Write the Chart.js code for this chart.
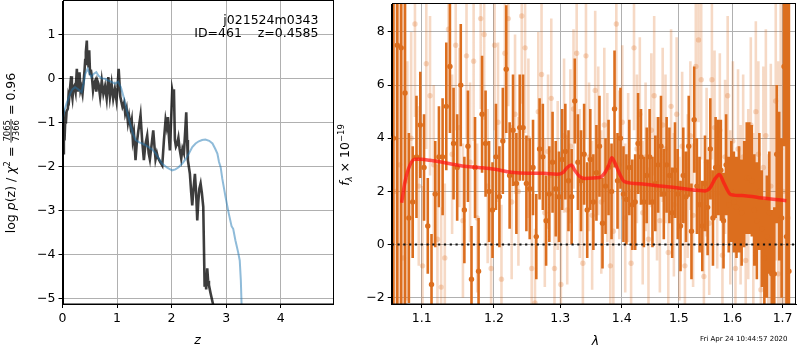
<!DOCTYPE html>
<html>
<head>
<meta charset="utf-8">
<script src="https://cdn.jsdelivr.net/npm/chart.js@4.4.0/dist/chart.umd.min.js"></script>
<style>
  html, body { margin: 0; padding: 0; background: #fff; }
  #wrap { position: relative; width: 800px; height: 350px; overflow: hidden; }
  #pzChart { position: absolute; left: 0; top: 0; }
  #specChart { position: absolute; left: 336px; top: 0; }
  #stamp { position: absolute; left: 700px; top: 335px; font: 7px "DejaVu Sans"; line-height: 9px; white-space: nowrap; color: #000; }
</style>
</head>
<body>
<div id="wrap">
  <canvas id="pzChart" width="336" height="350"></canvas>
  <canvas id="specChart" width="464" height="350"></canvas>
  <div id="stamp">Fri Apr 24 10:44:57 2020</div>
</div>
<script>
// ---- p(z) panel ----
const zPz = [0.000, 0.010, 0.025, 0.037, 0.050, 0.061, 0.075, 0.098, 0.110, 0.122,
  0.140, 0.159, 0.172, 0.183, 0.200, 0.220, 0.240, 0.263, 0.280, 0.296,
  0.312, 0.330, 0.345, 0.367, 0.385, 0.404, 0.416, 0.428, 0.446, 0.458,
  0.468, 0.478, 0.490, 0.505, 0.520, 0.540, 0.560, 0.580, 0.600, 0.620,
  0.640, 0.660, 0.690, 0.720, 0.750, 0.780, 0.810, 0.840, 0.870, 0.900,
  0.930, 0.960, 0.990, 1.010, 1.030, 1.060, 1.100, 1.130, 1.150, 1.175,
  1.200, 1.220, 1.248, 1.270, 1.290, 1.310, 1.339, 1.360, 1.390, 1.431,
  1.460, 1.492, 1.520, 1.553, 1.580, 1.602, 1.630, 1.664, 1.690, 1.706,
  1.730, 1.749, 1.790, 1.829, 1.860, 1.890, 1.910, 1.933, 1.950, 1.969,
  1.990, 2.012, 2.030, 2.043, 2.061, 2.080, 2.104, 2.125, 2.147, 2.177,
  2.200, 2.226, 2.250, 2.269, 2.285, 2.299, 2.336, 2.360, 2.379, 2.400,
  2.428, 2.450, 2.471, 2.490, 2.510, 2.532, 2.555, 2.581, 2.606, 2.620,
  2.635, 2.654, 2.670, 2.685, 2.716, 2.765, 2.800];
const logPz = [-1.75, -1.70, -1.20, -1.41, -0.95, -1.03, -0.75, -0.69, -0.40, -0.46,
  -0.20, 0.05, -0.35, -0.45, -0.20, -0.16, -0.30, 0.22, -0.30, -0.15,
  0.14, -0.27, -0.20, -0.35, -0.10, 0.18, 0.42, 0.60, 0.86, 0.30,
  0.48, 0.25, 0.64, 0.10, 0.20, 0.03, -0.27, -0.10, -0.05, -0.30,
  -0.05, -0.12, -0.42, -0.05, -0.35, -0.18, -0.46, 0.03, -0.42, -0.12,
  -0.46, -0.24, -0.50, -0.20, 0.22, -0.42, -0.65, -0.55, -0.80, -0.68,
  -1.00, -0.85, -1.10, -0.95, -1.40, -1.25, -1.86, -1.50, -1.20, -0.84,
  -1.40, -1.86, -1.50, -1.30, -1.70, -1.84, -1.55, -1.18, -1.60, -1.84,
  -1.70, -1.80, -1.90, -1.98, -1.40, -0.95, -1.10, -0.88, -1.30, -1.64,
  -1.00, -0.27, -0.40, -0.25, -1.40, -1.55, -1.48, -1.35, -1.60, -1.82,
  -1.60, -1.70, -1.20, -0.77, -1.40, -1.86, -2.17, -2.60, -2.89, -2.55,
  -2.17, -2.60, -3.23, -2.80, -2.50, -2.39, -2.60, -2.92, -4.74, -4.50,
  -4.80, -4.32, -4.60, -4.70, -4.89, -5.16, -5.40];
const zFit = [0.000, 0.010, 0.040, 0.080, 0.140, 0.180, 0.230, 0.280, 0.350, 0.390,
  0.416, 0.460, 0.500, 0.530, 0.570, 0.620, 0.660, 0.720, 0.780, 0.840,
  0.900, 0.960, 1.020, 1.070, 1.120, 1.180, 1.240, 1.290, 1.340, 1.400,
  1.460, 1.520, 1.580, 1.650, 1.710, 1.770, 1.830, 1.920, 2.010, 2.070,
  2.130, 2.200, 2.260, 2.320, 2.380, 2.440, 2.500, 2.560, 2.620, 2.690,
  2.750, 2.800, 2.840, 2.870, 2.900, 2.930, 2.990, 3.050, 3.100, 3.130,
  3.170, 3.220, 3.250, 3.270, 3.285];
const logPFit = [-1.00, -0.88, -0.70, -0.55, -0.35, -0.25, -0.20, -0.24, -0.31, -0.10,
  0.10, 0.22, 0.10, 0.03, 0.10, 0.14, 0.06, 0.00, -0.01, -0.05,
  -0.08, -0.12, -0.08, -0.20, -0.42, -0.73, -1.03, -1.25, -1.40, -1.45,
  -1.48, -1.52, -1.56, -1.62, -1.71, -1.83, -1.94, -2.03, -2.09, -2.07,
  -2.02, -1.93, -1.83, -1.70, -1.56, -1.48, -1.43, -1.40, -1.39, -1.42,
  -1.48, -1.60, -1.71, -1.90, -2.02, -2.28, -2.70, -3.08, -3.36, -3.42,
  -3.68, -3.95, -4.14, -4.59, -5.20];
const pzXTicks = [0, 1, 2, 3, 4];
const pzYTicks = [-5, -4, -3, -2, -1, 0, 1];

// ---- spectrum panel ----
const lamDark = [1.063, 1.068, 1.073, 1.078, 1.083, 1.088, 1.093, 1.098, 1.103, 1.108,
  1.113, 1.118, 1.123, 1.128, 1.133, 1.138, 1.143, 1.148, 1.153, 1.158,
  1.163, 1.168, 1.173, 1.178, 1.183, 1.188, 1.193, 1.198, 1.203, 1.208,
  1.213, 1.218, 1.223, 1.228, 1.233, 1.238, 1.243, 1.248, 1.253, 1.258,
  1.263, 1.268, 1.273, 1.278, 1.283, 1.288, 1.293, 1.298, 1.303, 1.308,
  1.313, 1.318, 1.323, 1.328, 1.333, 1.338, 1.343, 1.348, 1.353, 1.358,
  1.363, 1.368, 1.373, 1.378, 1.383, 1.388, 1.393, 1.398, 1.403, 1.408,
  1.413, 1.418, 1.423, 1.428, 1.433, 1.438, 1.443, 1.448, 1.453, 1.458,
  1.463, 1.468, 1.473, 1.478, 1.483, 1.488, 1.493, 1.498, 1.503, 1.508,
  1.513, 1.518, 1.523, 1.528, 1.533, 1.538, 1.543, 1.548, 1.553, 1.558,
  1.563, 1.568, 1.573, 1.578, 1.583, 1.588, 1.593, 1.598, 1.603, 1.608,
  1.613, 1.618, 1.623, 1.628, 1.633, 1.638, 1.643, 1.648, 1.653, 1.658,
  1.663, 1.668, 1.673, 1.678, 1.683, 1.688, 1.693, 1.698, 1.703, 1.708,
  1.713];
const fluxDark = [4.0, 7.5, 7.4, 5.7, 1.0, 1.6, 3.3, 4.5, 2.9, 0.7,
  -1.5, 1.9, 3.3, 3.3, 5.2, 6.7, 3.8, 2.9, 6.0, 1.3,
  3.7, -1.3, 2.9, -1.0, 4.9, 3.8, 2.0, 1.3, 3.3, 1.8,
  3.9, 6.6, 2.6, 4.3, 2.3, 4.4, 4.4, 2.3, 2.1, 2.9,
  0.3, 3.6, 3.3, 0.9, 1.9, 3.1, 2.1, 1.8, 3.2, 3.5,
  2.4, 1.8, 5.4, 3.1, 2.4, 3.4, 1.3, 3.2, 1.6, 2.7,
  3.7, 0.8, 2.2, 2.9, 2.0, 5.1, 2.4, 4.0, 1.9, 1.7,
  2.9, 1.5, 1.6, 3.8, 3.3, 1.6, 2.6, 3.3, 1.6, 2.3,
  3.0, 3.7, 1.9, 3.0, 2.6, 1.2, 2.8, 1.9, 0.7, 2.6,
  1.8, 3.7, 0.5, 4.7, 2.2, 1.5, 0.7, 2.3, 1.4, 3.6,
  1.0, 2.9, 2.9, 2.8, 0.9, 3.0, 1.5, 2.0, 1.6, 1.4,
  1.7, 1.2, 1.9, 2.5, 2.5, 2.4, 1.3, 0.9, 2.0, 0.6,
  -0.5, 0.3, 1.2, -1.1, -1.1, 3.4, 2.2, 1.0, 6.7, 0.3,
  -1.0];
const errDark = [12, 12, 11, 10, 3.2, 2.1, 2.3, 2.0, 2.0, 1.8,
  1.9, 2.0, 1.9, 2.2, 2.4, 2.5, 2.1, 2.0, 2.3, 2.0,
  2.1, 2.0, 1.9, 2.0, 2.2, 2.0, 1.9, 1.8, 2.0, 1.9,
  2.0, 2.4, 2.0, 2.1, 1.9, 2.0, 2.0, 1.8, 1.9, 1.8,
  1.6, 1.9, 2.0, 1.7, 1.8, 1.9, 1.8, 1.7, 1.9, 1.8,
  1.9, 1.8, 1.6, 1.8, 1.9, 1.9, 1.8, 1.9, 1.8, 1.8,
  1.9, 1.7, 1.8, 1.8, 1.8, 2.2, 1.8, 1.9, 1.8, 1.7,
  1.8, 1.7, 1.8, 1.9, 1.8, 1.7, 1.8, 1.8, 1.7, 1.8,
  1.8, 1.9, 1.7, 1.8, 1.8, 1.7, 1.8, 1.7, 1.7, 1.8,
  1.7, 1.9, 1.8, 2.0, 1.8, 1.8, 1.7, 1.8, 1.8, 1.9,
  1.8, 1.9, 1.8, 1.9, 1.8, 1.9, 1.8, 1.9, 1.9, 1.9,
  2.0, 2.0, 2.0, 2.1, 2.1, 2.1, 2.1, 2.2, 2.2, 2.2,
  2.2, 2.3, 2.3, 2.4, 2.5, 2.6, 2.8, 3.0, 3.0, 10,
  12];
const lamLight = [1.066, 1.071, 1.076, 1.081, 1.086, 1.091, 1.096, 1.101, 1.106, 1.111,
  1.116, 1.121, 1.126, 1.131, 1.136, 1.141, 1.146, 1.151, 1.156, 1.161,
  1.166, 1.171, 1.176, 1.181, 1.186, 1.191, 1.196, 1.201, 1.206, 1.211,
  1.216, 1.221, 1.226, 1.231, 1.236, 1.241, 1.246, 1.251, 1.256, 1.261,
  1.266, 1.271, 1.276, 1.281, 1.286, 1.291, 1.296, 1.301, 1.306, 1.311,
  1.316, 1.321, 1.326, 1.331, 1.336, 1.341, 1.346, 1.351, 1.356, 1.361,
  1.366, 1.371, 1.376, 1.381, 1.386, 1.391, 1.396, 1.401, 1.406, 1.411,
  1.416, 1.421, 1.426, 1.431, 1.436, 1.441, 1.446, 1.451, 1.456, 1.461,
  1.466, 1.471, 1.476, 1.481, 1.486, 1.491, 1.496, 1.501, 1.506, 1.511,
  1.516, 1.521, 1.526, 1.531, 1.536, 1.541, 1.546, 1.551, 1.556, 1.561,
  1.566, 1.571, 1.576, 1.581, 1.586, 1.591, 1.596, 1.601, 1.606, 1.611,
  1.616, 1.621, 1.626, 1.631, 1.636, 1.641, 1.646, 1.651, 1.656, 1.661,
  1.666, 1.671, 1.676, 1.681, 1.686, 1.691, 1.696, 1.701, 1.706, 1.711];
const fluxLight = [2.0, 3.0, -0.5, 2.4, 4.0, 8.3, 2.2, -0.8, 6.8, 5.6,
  3.0, 0.2, -1.6, -0.5, 8.1, 3.4, 7.5, 4.4, 0.9, 7.1,
  3.1, 6.9, 1.0, 8.5, 7.9, 2.2, -0.9, 7.5, 4.6, -1.3,
  7.2, 8.5, 1.6, 4.9, 2.0, 8.6, 7.4, 4.0, -0.9, -2.2,
  5.0, 6.4, 1.2, 3.5, 5.5, -0.9, 2.6, -1.5, 4.1, 1.3,
  3.7, 5.1, 7.2, 2.3, -0.7, 7.1, 3.3, 1.1, 5.8, 3.9,
  1.6, 4.5, 2.9, -0.8, 0.5, 8.3, 3.0, 4.6, 1.0, 2.9,
  -0.7, 7.4, 3.6, 4.9, 1.2, 3.3, 0.2, 4.3, 5.6, 2.1,
  0.9, 4.5, 3.6, -0.3, 5.2, 1.5, 4.9, 0.6, 3.7, -0.8,
  2.2, 4.1, 1.1, 6.7, 7.7, 6.2, -1.2, 3.1, 0.8, 6.2,
  4.4, 1.9, 4.3, -0.4, 3.3, 5.6, 1.4, 3.9, -0.9, 3.6,
  1.5, 3.3, -0.6, 1.9, 4.5, 0.9, 5.0, 3.4, -1.7, 2.9,
  4.1, -0.8, 2.2, 1.0, 5.4, -1.1, 3.6, 2.0, 5.0, 1.0];
const errLight = [12, 12, 10, 4.5, 4.0, 3.5, 3.0, 3.0, 3.2, 3.0,
  3.0, 2.8, 3.0, 2.8, 3.0, 3.0, 3.2, 3.0, 2.9, 3.1,
  3.0, 3.0, 2.8, 3.4, 3.2, 2.9, 2.8, 3.2, 3.0, 2.8,
  3.2, 3.3, 2.9, 3.0, 2.8, 3.3, 3.2, 3.0, 2.8, 2.8,
  3.0, 3.1, 2.8, 2.9, 3.0, 2.8, 2.8, 2.9, 2.9, 2.8,
  2.9, 3.0, 3.2, 2.8, 2.7, 3.1, 2.8, 2.8, 3.0, 2.8,
  2.7, 2.9, 2.8, 2.8, 2.8, 3.2, 2.8, 2.9, 2.8, 2.8,
  2.8, 3.1, 2.8, 2.9, 2.7, 2.8, 2.7, 2.9, 3.0, 2.7,
  2.7, 2.9, 2.8, 2.7, 2.9, 2.7, 2.9, 2.7, 2.8, 2.7,
  2.7, 2.8, 2.7, 3.0, 3.1, 3.0, 2.8, 2.8, 2.7, 3.0,
  2.9, 2.8, 2.9, 2.8, 2.9, 3.0, 2.9, 3.0, 2.9, 3.0,
  3.0, 3.1, 3.1, 3.2, 3.3, 3.3, 3.4, 3.5, 3.6, 3.8,
  4.0, 4.2, 4.6, 5.0, 6.0, 8.0, 10, 12, 12, 12];
const lamModel = [1.0736, 1.078, 1.0844, 1.0909, 1.0996, 1.1106, 1.1328, 1.1551, 1.1782, 1.2016,
  1.2254, 1.2497, 1.2744, 1.2945, 1.3048, 1.311, 1.3177, 1.3229, 1.3308, 1.3388,
  1.3631, 1.3713, 1.3785, 1.3835, 1.3878, 1.3962, 1.4046, 1.4363, 1.4656, 1.4957,
  1.5265, 1.5482, 1.5578, 1.5674, 1.5752, 1.5838, 1.597, 1.6239, 1.6581, 1.7078];
const fluxModel = [1.57, 2.37, 2.99, 3.21, 3.21, 3.17, 3.07, 2.96, 2.9, 2.83,
  2.72, 2.68, 2.68, 2.65, 2.72, 2.9, 2.99, 2.8, 2.56, 2.49,
  2.52, 2.68, 2.99, 3.27, 3.11, 2.68, 2.37, 2.28, 2.2, 2.14,
  2.05, 2.02, 2.14, 2.49, 2.64, 2.31, 1.88, 1.84, 1.75, 1.65];
const specXTicks = [1.1, 1.2, 1.3, 1.4, 1.5, 1.6, 1.7];
const specYTicks = [-2, 0, 2, 4, 6, 8];
const specXMin = 1.0608, specXMax = 1.7277;

const darkOrange = "rgb(220,110,30)";
const lightOrange = "rgba(220,110,30,0.26)";
const tickFont = { family: "DejaVu Sans", size: 12.5 };
Chart.defaults.font.family = "DejaVu Sans";

function pairs(xs, ys) {
  return xs.map((x, i) => ({ x: x, y: ys[i] }));
}

// error bars as separate vertical segments, broken by nulls
function errorSegments(lam, flux, err) {
  const out = [];
  lam.forEach((l, i) => {
    out.push({ x: l, y: flux[i] - err[i] }, { x: l, y: flux[i] + err[i] }, { x: l, y: null });
  });
  return out;
}

function minusFmt(v) {
  return String(v).replace("-", "\u2212");
}

// fixed axis box size, no extra label overflow padding
function fixSize(prop, size) {
  return (s) => {
    s[prop] = size;
    s.paddingTop = 0;
    s.paddingBottom = 0;
    s.paddingLeft = 0;
    s.paddingRight = 0;
  };
}

function axis(ticks, extra) {
  return Object.assign({
    afterBuildTicks: (s) => { s.ticks = ticks.map((v) => ({ value: v })); },
    ticks: { font: tickFont, color: "#000", maxRotation: 0, autoSkip: false, callback: minusFmt },
    grid: { color: "#b0b0b0", lineWidth: 1, tickColor: "#000", tickLength: 4, drawTicks: true },
    border: { display: true, color: "#000", width: 1 },
  }, extra);
}

function fontOf(p) {
  return (p.it ? "italic " : "") + (p.size || 12.5) + "px 'DejaVu Sans'";
}

// rotated axis title made of text pieces (sub/superscripts, a fraction)
function drawRotatedMath(ctx, baseX, centerY, pieces) {
  ctx.save();
  ctx.translate(baseX, centerY);
  ctx.rotate(-Math.PI / 2);
  ctx.fillStyle = "#000";
  ctx.textBaseline = "alphabetic";
  let total = 0;
  pieces.forEach((p) => {
    ctx.font = fontOf(p);
    p.w = p.frac
      ? Math.max(ctx.measureText(p.frac[0]).width, ctx.measureText(p.frac[1]).width) + 2
      : ctx.measureText(p.t).width;
    total += p.w;
  });
  let u = -total / 2;
  pieces.forEach((p) => {
    ctx.font = fontOf(p);
    if (p.frac) {
      ctx.textAlign = "center";
      ctx.fillText(p.frac[0], u + p.w / 2, -5.5);
      ctx.fillText(p.frac[1], u + p.w / 2, 3.8);
      ctx.fillRect(u, -4.4, p.w, 0.8);
    } else {
      ctx.textAlign = "left";
      ctx.fillText(p.t, u, p.dy || 0);
    }
    u += p.w;
  });
  ctx.restore();
}

const frame = {
  id: "frame",
  afterDraw(chart) {
    const { ctx, chartArea: a } = chart;
    ctx.save();
    ctx.strokeStyle = "#000";
    ctx.lineWidth = 1;
    ctx.strokeRect(Math.round(a.left) + 0.5, Math.round(a.top) - 0.5, Math.round(a.right - a.left) - 1, Math.round(a.bottom - a.top) + 0.5);
    ctx.restore();
  },
};

const pzText = {
  id: "pzText",
  afterDraw(chart) {
    const ctx = chart.ctx;
    ctx.save();
    ctx.fillStyle = "#000";
    ctx.font = "12.5px 'DejaVu Sans'";
    ctx.textAlign = "right";
    ctx.textBaseline = "alphabetic";
    ctx.fillText("j021524m0343", 318.5, 23.5);
    ctx.fillText("ID=461    z=0.4585", 318.5, 37);
    ctx.textAlign = "center";
    ctx.font = "italic 12.5px 'DejaVu Sans'";
    ctx.fillText("z", 197.5, 344);
    ctx.restore();
    drawRotatedMath(ctx, 15, 153, [
      { t: "log " }, { t: "p", it: true }, { t: "(z) / " }, { t: "\u03c7", it: true },
      { t: "2", size: 8.5, dy: -5.5 }, { t: " = " }, { frac: ["7065", "7366"], size: 8.5 },
      { t: " = 0.96" },
    ]);
  },
};

const specText = {
  id: "specText",
  afterDraw(chart) {
    const ctx = chart.ctx;
    ctx.save();
    ctx.fillStyle = "#000";
    ctx.font = "italic 12.5px 'DejaVu Sans'";
    ctx.textAlign = "center";
    ctx.textBaseline = "alphabetic";
    ctx.fillText("\u03bb", 259.5, 345);
    ctx.restore();
    drawRotatedMath(ctx, 13, 155, [
      { t: "f", it: true }, { t: "\u03bb", it: true, size: 8.5, dy: 2.5 },
      { t: " \u00d7 10" }, { t: "\u221219", size: 8.5, dy: -5.5 },
    ]);
  },
};

new Chart(document.getElementById("pzChart"), {
  type: "scatter",
  data: {
    datasets: [
      {
        label: "template fit",
        data: pairs(zFit, logPFit),
        showLine: true,
        borderColor: "rgba(31,119,180,0.5)",
        borderWidth: 2,
        pointRadius: 0,
        order: 0,
      },
      {
        label: "log p(z)",
        data: pairs(zPz, logPz),
        showLine: true,
        borderColor: "rgba(0,0,0,0.76)",
        borderWidth: 2.6,
        pointRadius: 0,
        order: 1,
      },
    ],
  },
  options: {
    responsive: false,
    animation: false,
    events: [],
    layout: { padding: { top: 1, right: 3, left: 0, bottom: 0 } },
    plugins: { legend: { display: false }, tooltip: { enabled: false } },
    scales: {
      x: axis(pzXTicks, { type: "linear", min: 0, max: 4.96, afterFit: fixSize("height", 46) }),
      y: axis(pzYTicks, { type: "linear", min: -5.13, max: 1.76, afterFit: fixSize("width", 62.5) }),
    },
  },
  plugins: [frame, pzText],
});

new Chart(document.getElementById("specChart"), {
  type: "scatter",
  data: {
    datasets: [
      {
        label: "model",
        data: pairs(lamModel, fluxModel),
        showLine: true,
        borderColor: "rgba(255,20,20,0.72)",
        borderWidth: 3.5,
        pointRadius: 0,
        cubicInterpolationMode: "monotone",
        order: 0,
      },
      {
        label: "zero",
        data: [{ x: specXMin, y: 0 }, { x: specXMax, y: 0 }],
        showLine: true,
        borderColor: "#111",
        borderWidth: 2,
        borderDash: [2.2, 3.6],
        pointRadius: 0,
        order: 1,
      },
      {
        label: "flux",
        data: pairs(lamDark, fluxDark),
        pointRadius: 2.7,
        pointBackgroundColor: darkOrange,
        pointBorderWidth: 0,
        order: 2,
      },
      {
        label: "flux err",
        data: errorSegments(lamDark, fluxDark, errDark),
        showLine: true,
        spanGaps: false,
        borderColor: darkOrange,
        borderWidth: 2.6,
        borderCapStyle: "butt",
        pointRadius: 0,
        order: 3,
      },
      {
        label: "flux (other)",
        data: pairs(lamLight, fluxLight),
        pointRadius: 2.7,
        pointBackgroundColor: lightOrange,
        pointBorderWidth: 0,
        order: 4,
      },
      {
        label: "flux err (other)",
        data: errorSegments(lamLight, fluxLight, errLight),
        showLine: true,
        spanGaps: false,
        borderColor: lightOrange,
        borderWidth: 2.6,
        borderCapStyle: "butt",
        pointRadius: 0,
        order: 5,
      },
    ],
  },
  options: {
    responsive: false,
    animation: false,
    events: [],
    layout: { padding: { top: 1, right: 1, left: 0, bottom: 0 } },
    plugins: { legend: { display: false }, tooltip: { enabled: false } },
    scales: {
      x: axis(specXTicks, {
        type: "logarithmic", min: specXMin, max: specXMax,
        afterFit: fixSize("height", 46),
        ticks: { font: tickFont, color: "#000", maxRotation: 0, autoSkip: false, callback: (v) => v.toFixed(1) },
      }),
      y: axis(specYTicks, { type: "linear", min: -2.235, max: 9.05, afterFit: fixSize("width", 55.7) }),
    },
  },
  plugins: [frame, specText],
});
</script>
</body>
</html>
